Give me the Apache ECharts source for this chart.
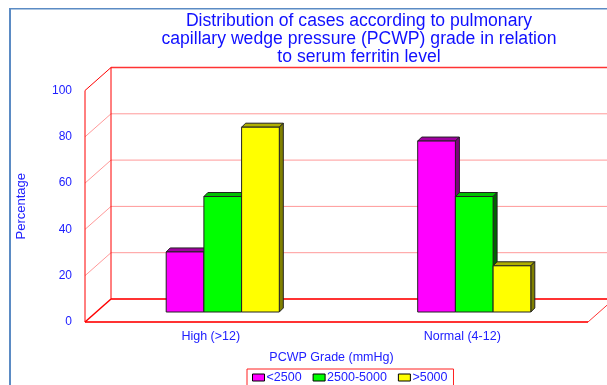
<!DOCTYPE html>
<html>
<head>
<meta charset="utf-8">
<style>html,body{margin:0;padding:0;background:#fff}#c{width:607px;height:385px}</style>
<script src="https://cdn.jsdelivr.net/npm/echarts@6/dist/echarts.min.js"></script>
</head>
<body>
<div id="c"></div>
<script>
const categories = ['High (>12)', 'Normal (4-12)'];
const seriesNames = ['<2500', '2500-5000', '>5000'];
const low = [26, 74];
const mid = [50, 50];
const high = [80, 20];
const ticks = [0, 20, 40, 60, 80, 100];

const FONT = '"Liberation Sans", Arial, sans-serif';
const BLUE = '#2020ff';
const faces = [
  { front: '#ff00ff', top: '#a000a0', side: '#800080' },
  { front: '#00ff00', top: '#00c000', side: '#006400' },
  { front: '#ffff00', top: '#b0b000', side: '#808000' }
];
const WALL_DX = 26, WALL_DY = 23, BAR_D = 4;

function line(x1, y1, x2, y2, stroke, lineWidth) {
  return { type: 'line', shape: { x1, y1, x2, y2 }, style: { stroke, lineWidth, fill: null } };
}
function renderWall(params, api) {
  const cs = params.coordSys;
  const L = cs.x, R = cs.x + cs.width;
  const y = api.coord([0, api.value(0)])[1];
  const v = api.value(0);
  const children = [];
  if (v === 0) {
    children.push(line(L, y, R, y, '#ff3333', 2));
    children.push(line(L, y, L + WALL_DX, y - WALL_DY, '#ff0000', 1.5));
    children.push(line(R, y, R + WALL_DX, y - WALL_DY, '#ff3333', 1));
    children.push(line(L + WALL_DX, y - WALL_DY, R + WALL_DX, y - WALL_DY, '#ff3333', 2));
  } else if (v === 100) {
    children.push(line(L, y, L + WALL_DX, y - WALL_DY, '#ff0000', 1));
    children.push(line(L + WALL_DX, y - WALL_DY, R + WALL_DX, y - WALL_DY, '#ff3333', 1.5));
    children.push(line(L, y, L, cs.y + cs.height, '#ff0000', 1));
    children.push(line(L + WALL_DX, y - WALL_DY, L + WALL_DX, cs.y + cs.height - WALL_DY, '#ff0000', 1));
  } else {
    children.push(line(L, y, L + WALL_DX, y - WALL_DY, '#ff9999', 1));
    children.push(line(L + WALL_DX, y - WALL_DY, R + WALL_DX, y - WALL_DY, '#ff9999', 1));
  }
  return { type: 'group', children };
}
function barRenderer(idx) {
  return function (params, api) {
    const c = api.coord([api.value(0), api.value(1)]);
    const base = api.coord([api.value(0), 0])[1];
    const w = 37.7;
    const x = c[0] + (idx - 1.5) * w;
    const y = c[1];
    const f = faces[idx];
    const edge = { stroke: '#222', lineWidth: 1 };
    return {
      type: 'group',
      children: [
        { type: 'polygon', shape: { points: [[x, y], [x + BAR_D, y - BAR_D], [x + w + BAR_D, y - BAR_D], [x + w, y]] },
          style: Object.assign({ fill: f.top }, edge) },
        { type: 'polygon', shape: { points: [[x + w, y], [x + w + BAR_D, y - BAR_D], [x + w + BAR_D, base - BAR_D], [x + w, base]] },
          style: Object.assign({ fill: f.side }, edge) },
        { type: 'rect', shape: { x, y, width: w, height: base - y },
          style: Object.assign({ fill: f.front }, edge) }
      ]
    };
  };
}
const chart = echarts.init(document.getElementById('c'), null, { renderer: 'canvas' });
const values = [low, mid, high];
chart.setOption({
  animation: false,
  backgroundColor: '#fff',
  textStyle: { fontFamily: FONT },
  title: {
    text: 'Distribution of cases according to pulmonary\ncapillary wedge pressure (PCWP) grade in relation\nto serum ferritin level',
    left: 354, top: 7, textAlign: 'center',
    textStyle: { fontFamily: FONT, fontSize: 17.6, fontWeight: 'normal', color: '#1010ff', lineHeight: 18 }
  },
  legend: {
    data: seriesNames,
    left: 247, top: 369,
    padding: [2, 6, 3, 5],
    itemWidth: 12, itemHeight: 7, itemGap: 11,
    borderColor: '#ff2020', borderWidth: 1,
    icon: 'rect',
    selectedMode: false,
    itemStyle: { borderColor: '#000', borderWidth: 1 },
    textStyle: { fontFamily: FONT, fontSize: 12.5, color: BLUE, padding: [0, 0, 0, -3] }
  },
  grid: [
    { left: 85, width: 503, top: 90.5, height: 231.5 },
    { left: 97, width: 503, top: 81, height: 231 }
  ],
  xAxis: [
    { gridIndex: 0, type: 'category', data: categories,
      name: 'PCWP Grade (mmHg)', nameLocation: 'middle', nameGap: 29,
      nameTextStyle: { fontFamily: FONT, fontSize: 12.5, color: BLUE, padding: [0, 10, 0, 0] },
      axisLine: { show: false }, axisTick: { show: false },
      axisLabel: { fontFamily: FONT, fontSize: 12.5, color: BLUE, margin: 8 } },
    { gridIndex: 1, type: 'category', data: categories, show: false }
  ],
  yAxis: [
    { gridIndex: 0, type: 'value', min: 0, max: 100, interval: 20,
      name: 'Percentage', nameLocation: 'middle', nameGap: 57, nameRotate: 90,
      nameTextStyle: { fontFamily: FONT, fontSize: 13, color: BLUE },
      axisLine: { show: false }, axisTick: { show: false }, splitLine: { show: false },
      axisLabel: { fontFamily: FONT, fontSize: 12, color: BLUE, margin: 13 } },
    { gridIndex: 1, type: 'value', min: 0, max: 100, interval: 20, show: false, splitLine: { show: false } }
  ],
  series: [
    { type: 'custom', name: 'walls', xAxisIndex: 0, yAxisIndex: 0, silent: true, clip: false,
      encode: { y: 0 }, data: ticks.map(t => [t]), renderItem: renderWall, z: 1 }
  ].concat(seriesNames.map((name, i) => ({
    type: 'custom', name, xAxisIndex: 1, yAxisIndex: 1, clip: false, z: 2 + i,
    itemStyle: { color: faces[i].front },
    encode: { x: 0, y: 1 },
    data: categories.map((c, j) => [j, values[i][j]]),
    renderItem: barRenderer(i)
  }))),
  graphic: [
    { type: 'rect', shape: { x: 9, y: 8, width: 2, height: 377 }, style: { fill: '#5b8bc4' }, silent: true },
    { type: 'rect', shape: { x: 9, y: 8, width: 598, height: 1.5 }, style: { fill: '#5b8bc4' }, silent: true }
  ]
});
</script>
</body>
</html>
